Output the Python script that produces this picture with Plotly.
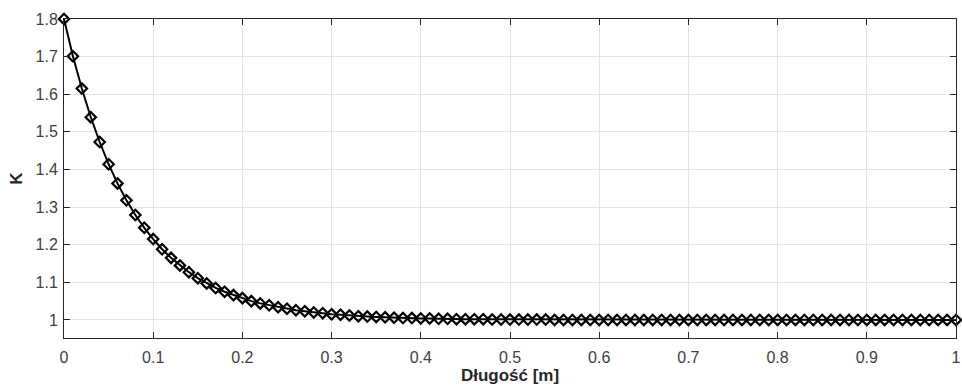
import plotly.graph_objects as go

x_vals = [round(i * 0.01, 2) for i in range(101)]
k_vals = [
    1.800, 1.701, 1.615, 1.539, 1.473, 1.414, 1.363, 1.318, 1.279, 1.245,
    1.215, 1.188, 1.165, 1.145, 1.127, 1.111, 1.097, 1.085, 1.075, 1.066,
    1.058, 1.050, 1.044, 1.039, 1.034, 1.030, 1.026, 1.023, 1.020, 1.018,
    1.015, 1.014, 1.012, 1.010, 1.009, 1.008, 1.007, 1.006, 1.005, 1.005,
    1.004, 1.004, 1.003, 1.003, 1.002, 1.002, 1.002, 1.002, 1.001, 1.001,
    1.001, 1.001, 1.001, 1.001, 1.001, 1.000, 1.000, 1.000, 1.000, 1.000,
    1.000, 1.000, 1.000, 1.000, 1.000, 1.000, 1.000, 1.000, 1.000, 1.000,
    1.000, 1.000, 1.000, 1.000, 1.000, 1.000, 1.000, 1.000, 1.000, 1.000,
    1.000, 1.000, 1.000, 1.000, 1.000, 1.000, 1.000, 1.000, 1.000, 1.000,
    1.000, 1.000, 1.000, 1.000, 1.000, 1.000, 1.000, 1.000, 1.000, 1.000,
    1.000,
]
x_ticks = [0, 0.1, 0.2, 0.3, 0.4, 0.5, 0.6, 0.7, 0.8, 0.9, 1]
x_tick_text = ["0", "0.1", "0.2", "0.3", "0.4", "0.5", "0.6", "0.7", "0.8", "0.9", "1"]
y_ticks = [1, 1.1, 1.2, 1.3, 1.4, 1.5, 1.6, 1.7, 1.8]
y_tick_text = ["1", "1.1", "1.2", "1.3", "1.4", "1.5", "1.6", "1.7", "1.8"]

fig = go.Figure()
fig.add_trace(go.Scatter(
    x=x_vals, y=k_vals, mode="lines+markers",
    line=dict(color="black", width=2),
    marker=dict(symbol="diamond-open", size=8, color="black", line=dict(width=2.2, color="black")),
    cliponaxis=False,
))

fam = "Liberation Sans, Arial, sans-serif"
font = dict(family=fam, size=16, color="#404040")
axis_common = dict(
    showgrid=True, gridcolor="#e3e3e3", gridwidth=1,
    showline=True, linecolor="#262626", linewidth=1, mirror="ticks",
    ticks="inside", ticklen=6, tickcolor="#262626", tickwidth=1,
    zeroline=False, tickfont=font, ticklabeloverflow="allow",
)
fig.update_xaxes(range=[0, 1], tickvals=x_ticks, ticktext=x_tick_text,
                 ticklabelstandoff=5,
                 title=dict(text="<b>Długość [m]</b>", font=dict(family=fam, size=17, color="#262626"), standoff=3),
                 **axis_common)
fig.update_yaxes(range=[0.952, 1.8], tickvals=y_ticks, ticktext=y_tick_text,
                 ticklabelstandoff=2,
                 title=dict(text="<b>K</b>", font=dict(family=fam, size=17, color="#262626"), standoff=8),
                 **axis_common)
fig.update_layout(
    width=962, height=387,
    margin=dict(l=64, r=1, t=19, b=49),
    plot_bgcolor="white", paper_bgcolor="white",
    showlegend=False,
)
fig.write_html("out.html")
